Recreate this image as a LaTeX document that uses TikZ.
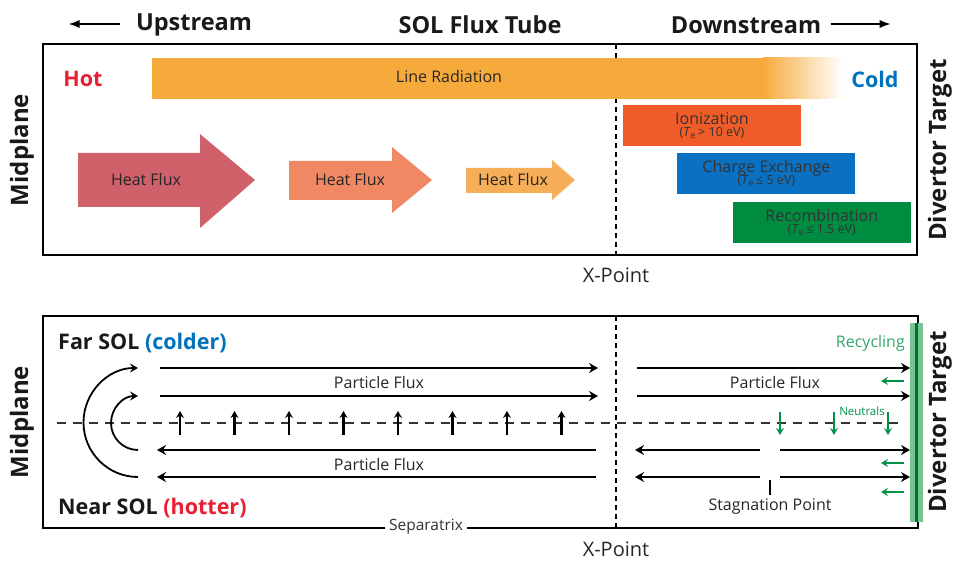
\documentclass[tikz,border=0pt]{standalone}
\usepackage{fontspec}
\setmainfont{Open Sans}
\usetikzlibrary{arrows.meta,positioning,calc}
\definecolor{hotred}{RGB}{232,30,50}
\definecolor{coldblue}{RGB}{0,114,188}
\definecolor{radorange}{RGB}{247,170,60}
\definecolor{heatA}{RGB}{208,96,106}
\definecolor{heatB}{RGB}{241,136,100}
\definecolor{heatC}{RGB}{246,174,88}
\definecolor{ionorange}{RGB}{240,92,40}
\definecolor{cxblue}{RGB}{10,112,194}
\definecolor{recgreen}{RGB}{0,140,64}
\definecolor{neutgreen}{RGB}{0,145,70}
\definecolor{tgtgreen}{RGB}{120,195,145}
\newcommand{\subtxtfont}{\fontsize{12.5}{13}\selectfont}

\begin{document}
\begin{tikzpicture}[x=1pt,y=-1pt,>=Latex,
  ttl/.style={font=\fontsize{23.5}{26}\selectfont\bfseries,text=black!90},
  side/.style={font=\fontsize{24}{26}\selectfont\bfseries,rotate=90,text=black!90},
  lbl/.style={font=\fontsize{16}{18}\selectfont,text=black!85},
  xpt/.style={font=\fontsize{20}{22}\selectfont,text=black!85},
  procbox/.style={minimum width=178pt,minimum height=41pt,inner sep=0pt,align=center,
    font=\fontsize{16}{17}\selectfont,text=black!80},
  flux/.style={line width=2.5pt,-{Stealth[length=9pt,width=10pt,inset=3pt]}},
  rise/.style={line width=2.6pt,-{Stealth[length=7pt,width=8pt,inset=2.5pt]}},
  neut/.style={neutgreen,line width=2.4pt,-{Stealth[length=7pt,width=8pt,inset=2.5pt]}},
  xdash/.style={line width=1.3pt,dash pattern=on 5pt off 4pt}]
  \useasboundingbox (0,0) rectangle (955,561);

  % titles
  \node[ttl] (up) at (194,25) {Upstream};
  \node[ttl] (tube) at (480,25) {SOL Flux Tube};
  \node[ttl] (down) at (746,25) {Downstream};
  \draw[line width=1.8pt,->] (up.west) ++(-13,-1) -- ++(-51,0);
  \draw[line width=1.8pt,->] (down.east) ++(6,-1) -- ++(60,0);

  % upper panel
  \draw[line width=2pt] (43,44) rectangle (917,255);
  \draw[xdash] (616,44) -- (616,255);
  \node[xpt] (xtop) at (616,275) {X-Point};
  \node[side] (midA) at (22,150) {Midplane};
  \node[side] (tgtA) at (940,150) {Divertor Target};

  \fill[radorange] (152,58) rectangle (764,99);
  \shade[left color=radorange,right color=white] (763,58) rectangle (842,99);
  \node[lbl] (rad) at (449,77) {Line Radiation};
  \node[font=\fontsize{21.5}{24}\selectfont\bfseries,text=hotred] (hot) at (83,79) {Hot};
  \node[font=\fontsize{21.5}{24}\selectfont\bfseries,text=coldblue] (cold) at (875,79) {Cold};

  % heat flux arrows
  \fill[heatA] (78,153) -- (200,153) -- (200,134) -- (255,180) -- (200,228) -- (200,207) -- (78,207) -- cycle;
  \node[lbl] (heatA) at (146,180) {Heat Flux};
  \fill[heatB] (289,161) -- (392,161) -- (392,147) -- (432,180) -- (392,213) -- (392,200) -- (289,200) -- cycle;
  \node[lbl] (heatB) at (350,180) {Heat Flux};
  \fill[heatC] (466,168) -- (552,168) -- (552,160) -- (575,180) -- (552,200) -- (552,193) -- (466,193) -- cycle;
  \node[lbl] (heatC) at (513,180) {Heat Flux};

  % atomic processes
  \node[procbox,fill=ionorange] (ion) at (712,125.5)
    {Ionization\\[-5pt]{\subtxtfont(\textit{T}\textsubscript{e}\,> 10 eV)}};
  \node[procbox,fill=cxblue,below right=7pt and -124pt of ion] (cx)
    {Charge Exchange\\[-5pt]{\subtxtfont(\textit{T}\textsubscript{e}\,≤ 5 eV)}};
  \node[procbox,fill=recgreen,below right=7pt and -123pt of cx] (rec)
    {Recombination\\[-5pt]{\subtxtfont(\textit{T}\textsubscript{e}\,≤ 1.5 eV)}};

  % lower panel
  \draw[line width=2pt] (43,316) rectangle (918,528);
  \node[font=\fontsize{15.5}{17}\selectfont,fill=white,inner xsep=4pt,inner ysep=1pt,text=black!80] (sep) at (426,527) {Separatrix};
  \draw[xdash] (616,316) -- (616,528);
  \node[xpt] (xbot) at (616,549) {X-Point};
  \node[side] (midB) at (22,422) {Midplane};
  \node[side] (tgtB) at (940,422) {Divertor Target};
  \fill[tgtgreen] (910,323) rectangle (923,522);
  \draw[recgreen!80!black,line width=2.5pt] (916.5,323) -- (916.5,522);

  \node[font=\fontsize{21.5}{24}\selectfont\bfseries,anchor=west,inner xsep=0pt,text=black!90] (far) at (58,343)
    {Far SOL \textcolor{coldblue}{(colder)}};
  \node[font=\fontsize{21.5}{24}\selectfont\bfseries,anchor=west,inner xsep=0pt,text=black!90] (near) at (58,508)
    {Near SOL \textcolor{hotred}{(hotter)}};

  % midplane
  \draw[line width=1.5pt,black!80,dash pattern=on 9pt off 7pt] (57,423) -- (905,423);

  % particle flux lines
  \foreach \yy in {368,396}{
    \draw[flux] (160,\yy) -- (598,\yy);
    \draw[flux] (637,\yy) -- (910,\yy);
  }
  \foreach \yy in {450,477}{
    \draw[flux] (596,\yy) -- (157,\yy);
    \draw[flux] (760,\yy) -- (635,\yy);
    \draw[flux] (780,\yy) -- (910,\yy);
  }
  \node[lbl] (pfA) at (379,382) {Particle Flux};
  \node[lbl] (pfB) at (379,464) {Particle Flux};
  \node[lbl] (pfC) at (775,382) {Particle Flux};

  % turning arcs
  \draw[line width=1.8pt,-{Stealth[length=8pt,width=9pt,inset=3pt]}] (138,477) arc[start angle=270,end angle=90,radius=54.5pt];
  \draw[line width=1.8pt,-{Stealth[length=8pt,width=9pt,inset=3pt]}] (138,450) arc[start angle=270,end angle=90,radius=27pt];

  % cross-field transport
  \foreach \xx in {180,234.5,289,343.5,398,452.5,507,561.5}
    \draw[rise] (\xx,435) -- (\xx,411);

  % stagnation point
  \draw[line width=1.3pt] (770,480) -- (770,495);
  \node[lbl] (stag) at (770,507) {Stagnation Point};

  % neutrals and recycling
  \foreach \xx in {780,834,888}
    \draw[neut] (\xx,412) -- (\xx,435);
  \node[font=\fontsize{11.5}{12}\selectfont,text=neutgreen] (neu) at (862,411) {Neutrals};
  \foreach \yy in {381,463,492}
    \draw[neut] (904,\yy) -- (881,\yy);
  \node[font=\fontsize{16}{18}\selectfont,text=neutgreen!80,anchor=east,inner xsep=0pt] (recy) at (905,343) {Recycling};
\end{tikzpicture}
\end{document}
